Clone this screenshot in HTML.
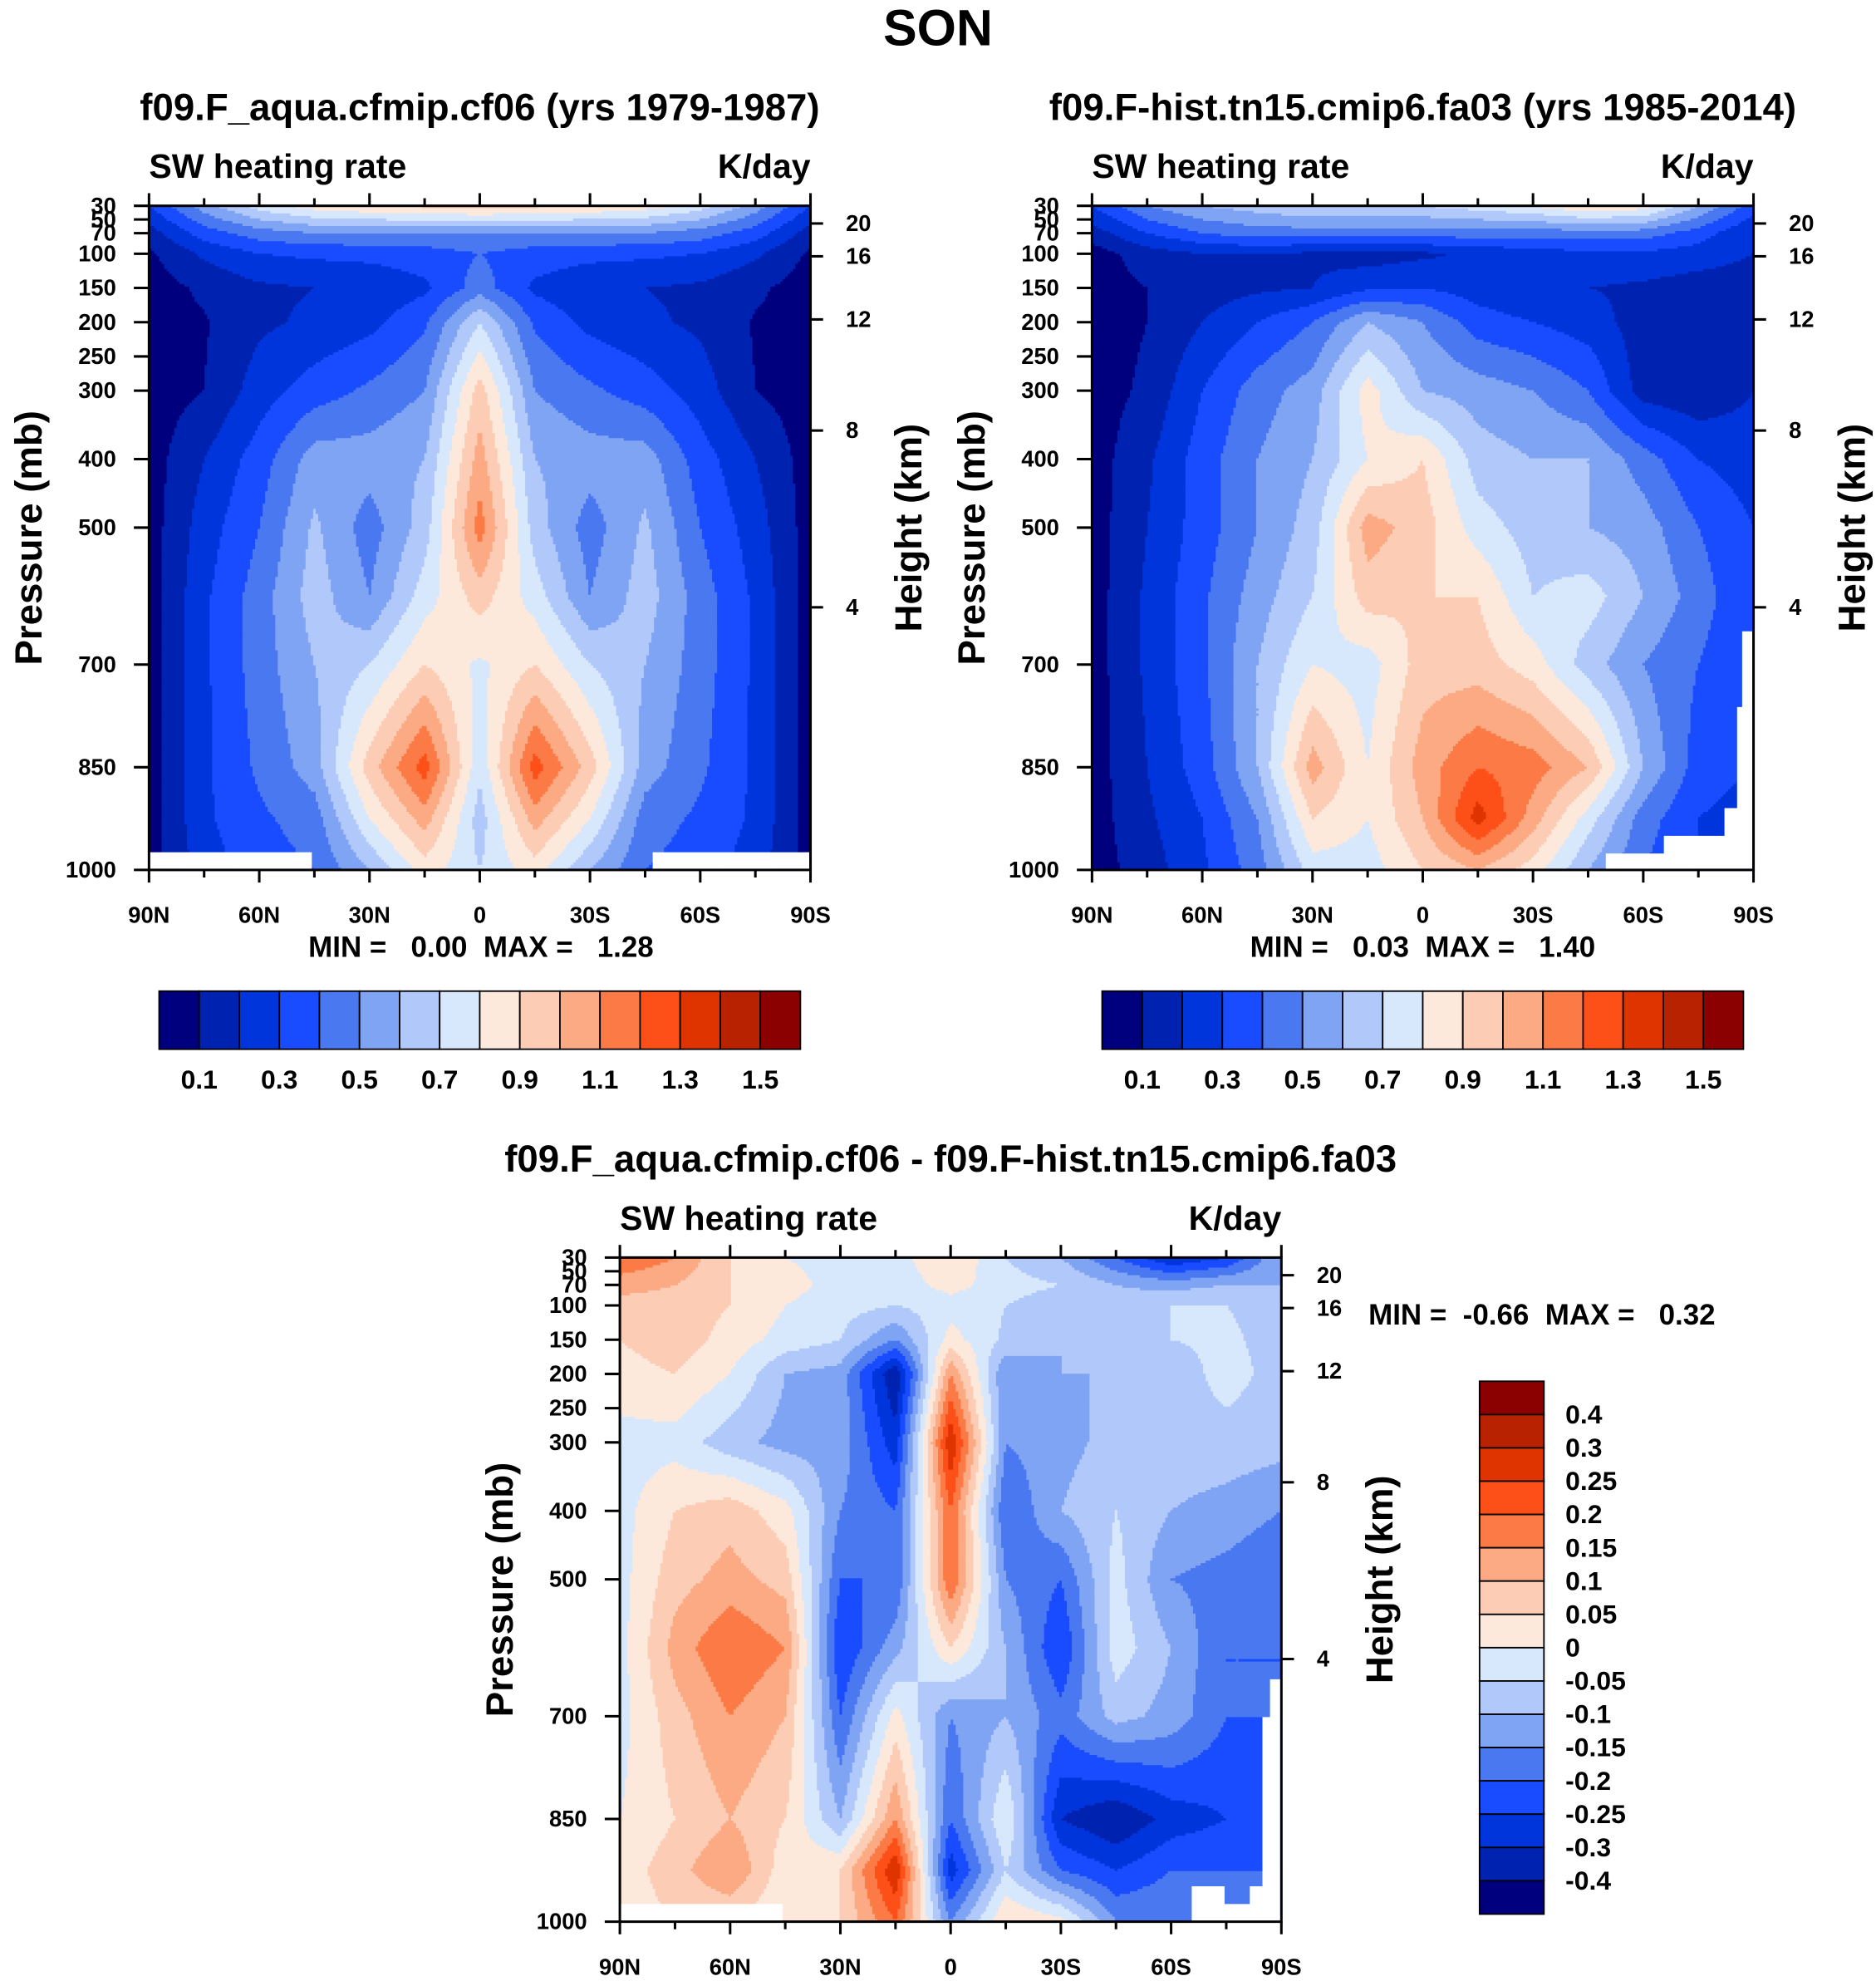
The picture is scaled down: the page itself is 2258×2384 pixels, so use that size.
<!DOCTYPE html>
<html><head><meta charset="utf-8"><style>
html,body{margin:0;padding:0;background:#fff}
svg{display:block}
text{font-family:"Liberation Sans",sans-serif;font-weight:bold;fill:#000;white-space:pre}
</style></head><body>
<svg id="fig" width="2258" height="2384" viewBox="0 0 1486 1569" xmlns="http://www.w3.org/2000/svg">
<text x="743" y="36" font-size="40" text-anchor="middle">SON</text>
</svg>
<script>
const lats=[-90,-75,-60,-45,-30,-15,0,15,30,45,60,75,90];
const plevs=[30,70,100,150,200,300,400,500,600,700,850,925,1000];
const levelsAbs=[0.1,0.2,0.3,0.4,0.5,0.6,0.7,0.8,0.9,1.0,1.1,1.2,1.3,1.4,1.5];
const levelsDiff=[-0.4,-0.3,-0.25,-0.2,-0.15,-0.1,-0.05,0,0.05,0.1,0.15,0.2,0.25,0.3,0.4];
const labelsAbs=["0.1","0.3","0.5","0.7","0.9","1.1","1.3","1.5"];
const labelsDiff=["0.4","0.3","0.25","0.2","0.15","0.1","0.05","0","-0.05","-0.1","-0.15","-0.2","-0.25","-0.3","-0.4"];
const pTicks=[30,50,70,100,150,200,250,300,400,500,700,850,1000];
const latTicks=["90N","60N","30N","0","30S","60S","90S"];
const hTicks=[20,16,12,8,4];
const colors=["#00007f","#0022b0","#0035dc","#1a4cff","#4a78f0","#80a4f4","#b0c8fa","#d8e8fc","#fde8dc","#fccdb4","#fcaa84","#fc7a46","#fc5018","#e03400","#b82200","#8b0000"];
const half1=[
[0.3,0.55,0.75,0.85,0.9,0.92,0.95],
[0.15,0.35,0.45,0.5,0.5,0.5,0.5],
[0.08,0.22,0.3,0.32,0.33,0.35,0.4],
[0.05,0.12,0.18,0.2,0.22,0.28,0.45],
[0.05,0.09,0.18,0.22,0.27,0.38,0.7],
[0.05,0.1,0.25,0.35,0.42,0.5,0.95],
[0.05,0.2,0.35,0.55,0.55,0.6,1.05],
[0.05,0.25,0.4,0.62,0.45,0.65,1.15],
[0.05,0.28,0.45,0.65,0.5,0.75,0.95],
[0.05,0.28,0.45,0.6,0.7,0.9,0.78],
[0.05,0.28,0.42,0.55,0.95,1.25,0.72],
[0.05,0.28,0.38,0.45,0.8,1.05,0.65],
[0.05,0.25,0.35,0.4,0.6,0.85,0.7]];
const field1=half1.map(r=>r.concat(r.slice(0,6).reverse()));
const field2=[
[0.3,0.5,0.6,0.65,0.7,0.7,0.7,0.75,0.8,0.9,0.85,0.6,0.35],
[0.15,0.3,0.4,0.45,0.45,0.45,0.45,0.45,0.45,0.45,0.45,0.35,0.2],
[0.05,0.15,0.2,0.2,0.18,0.15,0.18,0.22,0.25,0.28,0.28,0.25,0.2],
[0.05,0.1,0.15,0.18,0.2,0.28,0.3,0.25,0.2,0.2,0.18,0.15,0.15],
[0.05,0.1,0.2,0.3,0.4,0.6,0.5,0.35,0.3,0.25,0.15,0.12,0.15],
[0.05,0.12,0.3,0.45,0.55,0.85,0.6,0.55,0.5,0.4,0.15,0.12,0.2],
[0.05,0.18,0.35,0.5,0.6,0.8,0.9,0.65,0.6,0.6,0.45,0.3,0.25],
[0.05,0.2,0.35,0.5,0.65,1.05,0.95,0.75,0.65,0.6,0.55,0.4,0.3],
[0.05,0.22,0.38,0.55,0.7,0.95,0.9,0.9,0.7,0.75,0.6,0.45,0.3],
[0.05,0.22,0.38,0.6,0.8,0.75,0.95,0.95,0.85,0.65,0.5,0.4,0.3],
[0.05,0.2,0.35,0.6,1.05,0.8,1.05,1.2,1.15,1.0,0.6,0.35,0.3],
[0.05,0.18,0.3,0.5,0.9,0.8,1.0,1.35,1.05,0.75,0.45,0.3,0.25],
[0.05,0.15,0.28,0.45,0.75,0.75,0.9,1.0,0.85,0.6,0.4,0.3,0.25]];
const field3=[
[0.2,0.15,0.05,0.0,-0.02,-0.02,0.05,-0.05,-0.1,-0.2,-0.3,-0.25,-0.1],
[0.12,0.1,0.05,0.02,-0.02,-0.03,0.02,-0.03,-0.05,-0.1,-0.12,-0.1,-0.1],
[0.08,0.08,0.05,0.0,-0.03,-0.05,-0.02,-0.05,-0.08,-0.08,-0.05,-0.05,-0.07],
[0.05,0.08,0.03,-0.02,-0.05,-0.15,0.02,-0.06,-0.1,-0.08,-0.05,-0.04,-0.07],
[0.03,0.05,0.0,-0.1,-0.12,-0.35,0.15,-0.15,-0.1,-0.1,-0.08,-0.03,-0.07],
[-0.02,-0.02,-0.08,-0.12,-0.12,-0.28,0.3,-0.15,-0.12,-0.08,-0.07,-0.07,-0.08],
[-0.02,0.05,0.08,0.02,-0.15,-0.2,0.2,-0.2,-0.1,-0.05,-0.1,-0.12,-0.15],
[-0.02,0.08,0.12,0.08,-0.2,-0.2,0.2,-0.15,-0.2,-0.03,-0.15,-0.17,-0.2],
[-0.02,0.12,0.2,0.15,-0.25,-0.12,0.05,-0.1,-0.25,-0.02,-0.1,-0.2,-0.2],
[-0.02,0.08,0.15,0.1,-0.2,0.02,-0.15,-0.1,-0.18,-0.08,-0.12,-0.2,-0.2],
[0.0,0.05,0.1,0.05,-0.1,0.15,-0.2,0.0,-0.3,-0.35,-0.28,-0.25,-0.2],
[0.02,0.08,0.15,0.02,0.05,0.3,-0.28,-0.05,-0.2,-0.25,-0.2,-0.2,-0.2],
[0.02,0.05,0.05,0.0,0.05,0.2,-0.15,0.05,0.02,-0.15,-0.15,-0.2,-0.2]];

const NS="http://www.w3.org/2000/svg";
const svg=document.getElementById('fig');
function mk(tag,attrs,parent,txt){const e=document.createElementNS(NS,tag);for(const k in attrs)e.setAttribute(k,attrs[k]);if(txt!==undefined)e.textContent=txt;(parent||svg).appendChild(e);return e;}
function colorFor(v,levels){let i=0;while(i<levels.length&&v>=levels[i])i++;return colors[i];}
function sample(field,lat,p){
  let i=0;while(i<lats.length-2&&lat>lats[i+1])i++;
  let j=0;while(j<plevs.length-2&&p>plevs[j+1])j++;
  const tx=Math.min(1,Math.max(0,(lat-lats[i])/(lats[i+1]-lats[i])));
  const ty=Math.min(1,Math.max(0,(p-plevs[j])/(plevs[j+1]-plevs[j])));
  const a=field[j][i],b=field[j][i+1],c=field[j+1][i],d=field[j+1][i+1];
  return (a*(1-tx)+b*tx)*(1-ty)+(c*(1-tx)+d*tx)*ty;
}
function panel(name,x0,y0,field,levels,title,minmax,mmPos){
  const W=524,H=526;
  const g=mk('g',{},svg);
  
  
  const step=2;
  for(let py=0;py<H;py+=step){
    const p=30+(py+step/2)/H*970;
    const hh=Math.min(step,H-py);
    let runStart=0,runCol=null;
    for(let px=0;px<W+step;px+=step){
      let col=null;
      if(px<W){const lat=-90+(px+step/2)/W*180;col=colorFor(sample(field,lat,p),levels);}
      if(col!==runCol){
        if(runCol!==null){const ex=Math.min(px,W);const r=mk('rect',{x:x0+runStart,y:y0+py,width:ex-runStart+(ex<W?0.6:0),height:hh+(py+hh<H?0.6:0),fill:runCol},g);
          
          }
        runStart=px;runCol=col;
      }
    }
  }
  const fr=mk('rect',{x:x0,y:y0,width:W,height:H,fill:'none',stroke:'#000','stroke-width':2},g);
  
  
  pTicks.forEach(p=>{const y=y0+(p-30)/970*H;
    mk('line',{x1:x0-12,x2:x0,y1:y,y2:y,stroke:'#000','stroke-width':2},g);
    const t=mk('text',{x:x0-26,y:y+6,'font-size':18,'text-anchor':'end'},g,String(p));
    
    });
  for(let k=0;k<=12;k++){const x=x0+k*W/12;const len=k%2==0?10:6;
    mk('line',{x1:x,x2:x,y1:y0,y2:y0-len,stroke:'#000','stroke-width':2},g);
    mk('line',{x1:x,x2:x,y1:y0+H,y2:y0+H+len,stroke:'#000','stroke-width':2},g);}
  latTicks.forEach((l,k)=>{const t=mk('text',{x:x0+k*W/6,y:y0+H+42,'font-size':18,'text-anchor':'middle'},g,l);
    
    });
  const hy={20:14,16:40,12:90,8:178,4:318};
  hTicks.forEach(h=>{const y=y0+hy[h];
    mk('line',{x1:x0+W,x2:x0+W+10,y1:y,y2:y,stroke:'#000','stroke-width':2},g);
    const t=mk('text',{x:x0+W+28,y:y+6,'font-size':18},g,String(h));
    
    });
  let t;
  t=mk('text',{x:x0+W/2,y:y0-68,'font-size':30,'text-anchor':'middle'},g,title);
  
  
  t=mk('text',{x:x0,y:y0-22,'font-size':27},g,'SW heating rate');
  
  
  t=mk('text',{x:x0+W,y:y0-22,'font-size':27,'text-anchor':'end'},g,'K/day');
  
  
  t=mk('text',{x:0,y:0,'font-size':30,'text-anchor':'middle',transform:`translate(${x0-85},${y0+H/2}) rotate(-90)`},g,'Pressure (mb)');
  
  
  t=mk('text',{x:0,y:0,'font-size':30,'text-anchor':'middle',transform:`translate(${x0+W+88},${y0+H/2-8}) rotate(-90)`},g,'Height (km)');
  
  
  t=mk('text',{x:mmPos[0],y:mmPos[1],'font-size':23,'text-anchor':mmPos[2]},g,minmax);
  
  
  return g;
}
const G1=panel('panel-cf06',118,163,field1,levelsAbs,'f09.F_aqua.cfmip.cf06 (yrs 1979-1987)','MIN =   0.00  MAX =   1.28',[381,758,'middle']);
mk('rect',{x:119,y:675,width:128,height:13,fill:'#fff'},G1);
mk('rect',{x:517,y:675,width:124,height:13,fill:'#fff'},G1);
const G2=panel('panel-fa03',865,163,field2,levelsAbs,'f09.F-hist.tn15.cmip6.fa03 (yrs 1985-2014)','MIN =   0.03  MAX =   1.40',[1127,758,'middle']);
mk('polygon',{points:'1380,500 1388,500 1388,688 1272,688 1272,676 1318,676 1318,662 1366,662 1366,640 1376,640 1376,560 1380,560',fill:'#fff'},G2);
const G3=panel('panel-difference',491,996,field3,levelsDiff,'f09.F_aqua.cfmip.cf06 - f09.F-hist.tn15.cmip6.fa03','MIN =  -0.66  MAX =   0.32',[1084,1049,'start']);
mk('polygon',{points:'1006,1330 1014,1330 1014,1521 944,1521 944,1494 970,1494 970,1508 990,1508 990,1494 1000,1494 1000,1360 1006,1360',fill:'#fff'},G3);
mk('rect',{x:492,y:1508,width:128,height:13,fill:'#fff'},G3);

function hbar(name,x0,y0){const g=mk('g',{},svg);
  
  
  const w=508/16;
  colors.forEach((c,k)=>{const r=mk('rect',{x:x0+k*w,y:y0,width:w,height:46,fill:c,stroke:'#000','stroke-width':1.2},g);
    
    });
  labelsAbs.forEach((l,k)=>{const t=mk('text',{x:x0+w*(1+2*k),y:y0+77,'font-size':21,'text-anchor':'middle'},g,l);
    
    });
}
hbar('colorbar-cf06',126,785);
hbar('colorbar-fa03',873,785);
(function(){const g=mk('g',{},svg);
  
  
  const h=422/16;
  colors.slice().reverse().forEach((c,k)=>{const r=mk('rect',{x:1172,y:1094+k*h,width:51,height:h,fill:c,stroke:'#000','stroke-width':1.2},g);
    
    });
  labelsDiff.forEach((l,k)=>{const t=mk('text',{x:1240,y:1094+h*(k+1)+7,'font-size':21},g,l);
    
    });
})();
</script>
</body></html>
